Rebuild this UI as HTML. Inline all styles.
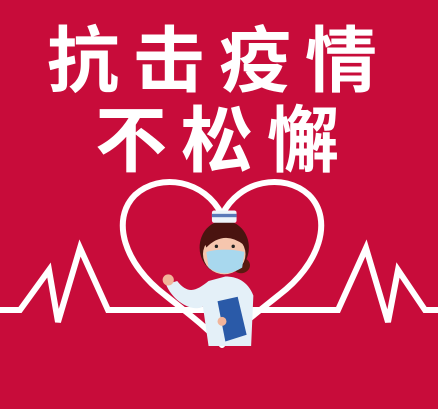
<!DOCTYPE html>
<html><head><meta charset="utf-8"><style>
html,body{margin:0;padding:0;width:438px;height:409px;overflow:hidden;background:#c80c3a}
svg{display:block}
</style></head><body>
<svg width="438" height="409" viewBox="0 0 438 409">
<rect width="438" height="409" fill="#c80c3a"/>
<text x="219" y="86" text-anchor="middle" font-family="'Noto Sans CJK SC','WenQuanYi Zen Hei',sans-serif" font-weight="bold" font-size="72" fill="#fff" letter-spacing="14">抗击疫情</text>
<text x="224" y="166" text-anchor="middle" font-family="'Noto Sans CJK SC','WenQuanYi Zen Hei',sans-serif" font-weight="bold" font-size="72" fill="#fff" letter-spacing="14">不松懈</text>
<path d="M222,215 C205,180 160,172 135,195 C110,220 125,265 165,295 C190,315 210,330 222,345 C234,330 254,315 279,295 C319,265 334,220 309,195 C284,172 239,180 222,215 Z" fill="none" stroke="#fff" stroke-width="6" stroke-linejoin="round"/>
<polyline points="0,310 20,310 49,270 58,322 80,248 108,310 338,310 366,248 388,322 398,270 425,310 438,310" fill="none" stroke="#fff" stroke-width="6" stroke-linejoin="miter"/>
<g transform="translate(222,290) scale(1.12) translate(-222,-290)">
<path d="M172,285 C178,300 195,310 205,305 L210,340 L248,340 L250,295 C245,282 235,278 225,278 L210,282 C200,290 192,295 182,282 Z" fill="#e4f0f8"/>
<circle cx="174" cy="281" r="5" fill="#f2b49a"/>
<ellipse cx="239" cy="268" rx="8" ry="7" fill="#5a1a10"/>
<ellipse cx="224" cy="252" rx="22" ry="24" fill="#4a1410"/>
<ellipse cx="224" cy="258" rx="19" ry="18" fill="#f6c6ae"/>
<path d="M208,252 Q224,236 242,250 L242,244 Q224,228 206,246 Z" fill="#4a1410"/>
<circle cx="217" cy="251" r="1.5" fill="#222"/><circle cx="232" cy="251" r="1.5" fill="#222"/>
<path d="M208,256 Q224,252 242,256 L240,270 Q224,280 210,270 Z" fill="#a8d8ee"/>
<rect x="213" y="219" width="22" height="11" rx="2" fill="#eef4fa"/>
<rect x="213" y="222" width="22" height="3" fill="#5a78b8"/>
<path d="M218,300 L236,296 L244,330 L225,336 Z" fill="#2a5aa8"/>
<circle cx="222" cy="318" r="4" fill="#f2b49a"/>
</g>
</svg>
</body></html>
